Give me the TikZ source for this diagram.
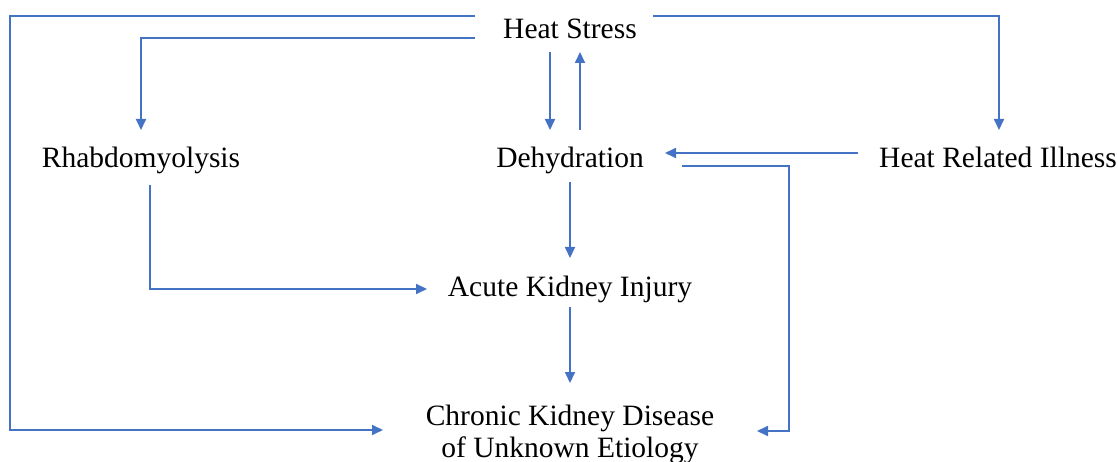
\documentclass[tikz,border=0pt]{standalone}
\usepackage{fontspec}
\setmainfont{Liberation Serif}
\usetikzlibrary{arrows.meta}
\definecolor{lblue}{HTML}{4472C4}
\begin{document}
\begin{tikzpicture}[x=1pt,y=-1pt,
  lbl/.style={anchor=base, inner sep=0pt, font=\fontsize{29.5}{32}\selectfont},
  conn/.style={draw=lblue, line width=1.8pt, -{Triangle[length=11pt,width=10pt]}}]
\useasboundingbox (0,0) rectangle (1118,462);
% texts
\node[lbl] (hs) at (570,39) {Heat Stress};
\node[lbl] (rh) at (141,168) {Rhabdomyolysis};
\node[lbl] (dh) at (570,168) {Dehydration};
\node[lbl] (hri) at (998,168) {Heat Related Illness};
\node[lbl] (aki) at (570,296) {Acute Kidney Injury};
\node[lbl, anchor=center, align=center] (ckd) at (570,434) {Chronic Kidney Disease\\of Unknown Etiology};
% connector end points
\coordinate (hsTL) at (475,16);
\coordinate (hsML) at (475,38);
\coordinate (hsTR) at (653,16);
\coordinate (hsB1) at (550,52);
\coordinate (hsB2) at (580,52);
\coordinate (rhT) at (141,130);
\coordinate (rhB) at (150,185);
\coordinate (hriT) at (999,130);
\coordinate (hriL) at (858,153);
\coordinate (dhT1) at (550,130);
\coordinate (dhT2) at (580,130);
\coordinate (dhR1) at (665,153);
\coordinate (dhR2) at (682,166);
\coordinate (dhB) at (570,182);
\coordinate (akiT) at (570,258);
\coordinate (akiL) at (427,289);
\coordinate (akiB) at (570,307);
\coordinate (ckdT) at (570,383);
\coordinate (ckdL) at (383,430);
\coordinate (ckdR) at (757,431);
% connectors
\draw[conn] (hsTL) -- (10,16) -- (10,430) -- (ckdL);
\draw[conn] (hsML) -| (rhT);
\draw[conn] (hsTR) -| (hriT);
\draw[conn] (hsB1) -- (dhT1);
\draw[conn] (dhT2) -- (hsB2);
\draw[conn] (hriL) -- (dhR1);
\draw[conn] (dhR2) -- (789,166) -- (789,431) -- (ckdR);
\draw[conn] (dhB) -- (akiT);
\draw[conn] (rhB) |- (akiL);
\draw[conn] (akiB) -- (ckdT);
\end{tikzpicture}
\end{document}
